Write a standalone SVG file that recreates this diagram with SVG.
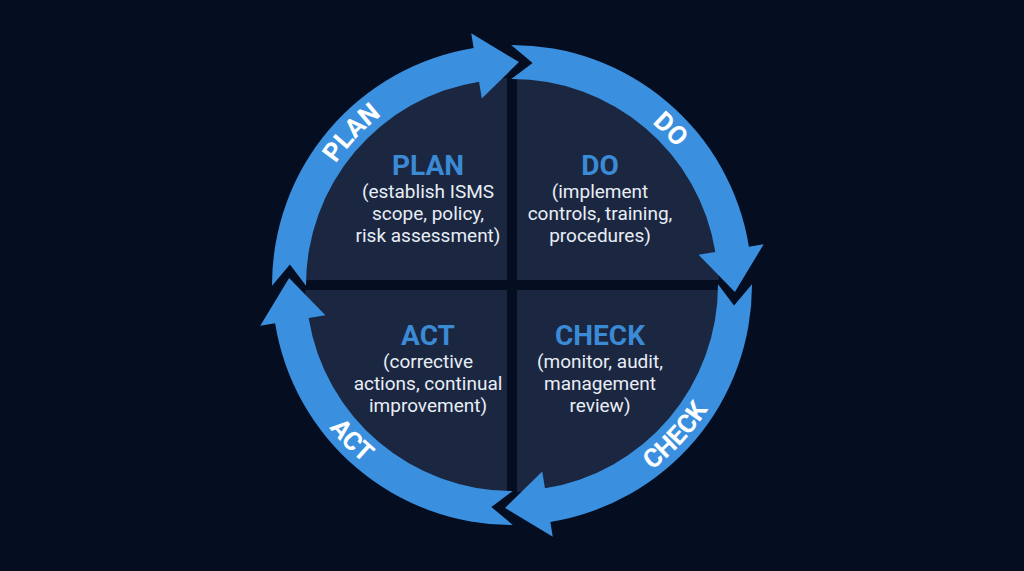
<svg xmlns="http://www.w3.org/2000/svg" xmlns:xlink="http://www.w3.org/1999/xlink" width="1024" height="571" viewBox="0 0 1024 571">
  <defs>
    <style>
      .quad { fill: #1b2741; }
      .arrow { fill: #3a8fde; }
      .title { font-family: Roboto, "Liberation Sans", sans-serif; font-weight: 700; font-size: 28px; fill: #3b8ad6; text-anchor: middle; }
      .desc { font-family: Roboto, "Liberation Sans", sans-serif; font-size: 19px; fill: #e9eef6; text-anchor: middle; }
      .ring-label { font-family: Roboto, "Liberation Sans", sans-serif; font-weight: 700; font-size: 26px; fill: #ffffff; }
    </style>
    <path id="arrowShape" d="M-240,0.84 A240,240 0 0 1 -38.37,-236.91 L-40.77,-251.72 L7.00,-222.89 L-30.22,-186.57 L-32.94,-203.35 A206,206 0 0 0 -206.0,0.72 L-222.05,-20.60 Z"/>
    <path id="pPlan" d="M298.4,271.9 A214,214 0 0 1 487.8,72.4"/>
    <path id="pDo" d="M532.5,72.0 A214,214 0 0 1 725.3,268.2"/>
    <path id="pCheck" d="M541.9,515.1 A232,232 0 0 0 743.8,295.5"/>
    <path id="pAct" d="M280.6,301.6 A232,232 0 0 0 488.2,515.8"/>
  </defs>
  <rect width="1024" height="571" fill="#050d20"/>

  <g id="plan">
    <path class="quad" d="M507,280 L507,78.06 A207,207 0 0 0 305.06,280 Z"/>
    <text class="title" x="428" y="175">PLAN</text>
    <text class="desc" x="428" y="198">(establish ISMS</text>
    <text class="desc" x="428" y="220">scope, policy,</text>
    <text class="desc" x="428" y="242">risk assessment)</text>
  </g>
  <g id="do">
    <path class="quad" d="M517,280 L718.94,280 A207,207 0 0 0 517,78.06 Z"/>
    <text class="title" x="600" y="175">DO</text>
    <text class="desc" x="600" y="198">(implement</text>
    <text class="desc" x="600" y="220">controls, training,</text>
    <text class="desc" x="600" y="242">procedures)</text>
  </g>
  <g id="check">
    <path class="quad" d="M517,290 L517,491.94 A207,207 0 0 0 718.94,290 Z"/>
    <text class="title" x="600" y="345">CHECK</text>
    <text class="desc" x="600" y="368">(monitor, audit,</text>
    <text class="desc" x="600" y="390">management</text>
    <text class="desc" x="600" y="412">review)</text>
  </g>
  <g id="act">
    <path class="quad" d="M507,290 L305.06,290 A207,207 0 0 0 507,491.94 Z"/>
    <text class="title" x="428" y="345">ACT</text>
    <text class="desc" x="428" y="368">(corrective</text>
    <text class="desc" x="428" y="390">actions, continual</text>
    <text class="desc" x="428" y="412">improvement)</text>
  </g>

  <g id="connectors">
    <use xlink:href="#arrowShape" class="arrow" transform="translate(512,285)"/>
    <use xlink:href="#arrowShape" class="arrow" transform="translate(512,285) rotate(90)"/>
    <use xlink:href="#arrowShape" class="arrow" transform="translate(512,285) rotate(180)"/>
    <use xlink:href="#arrowShape" class="arrow" transform="translate(512,285) rotate(270)"/>
    <text class="ring-label"><textPath xlink:href="#pPlan" startOffset="50%" text-anchor="middle">PLAN</textPath></text>
    <text class="ring-label"><textPath xlink:href="#pDo" startOffset="50%" text-anchor="middle">DO</textPath></text>
    <text class="ring-label"><textPath xlink:href="#pCheck" startOffset="50%" text-anchor="middle">CHECK</textPath></text>
    <text class="ring-label"><textPath xlink:href="#pAct" startOffset="50%" text-anchor="middle">ACT</textPath></text>
  </g>
</svg>
